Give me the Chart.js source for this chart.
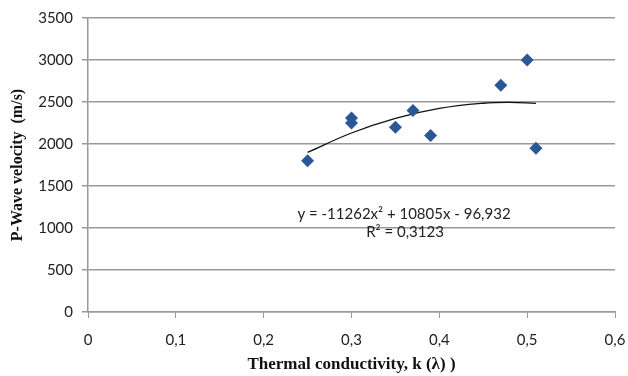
<!DOCTYPE html>
<html>
<head>
<meta charset="utf-8">
<script src="https://cdn.jsdelivr.net/npm/chart.js@4"></script>
<style>
  html, body { margin: 0; padding: 0; background: #fff; }
  #wrap { width: 628px; height: 376px; }
</style>
</head>
<body>
<div id="wrap"><canvas id="chart" width="628" height="376"></canvas></div>
<script>
// measured points
const conductivity = [0.25, 0.30, 0.30, 0.35, 0.37, 0.39, 0.47, 0.50, 0.51];
const velocity = [1800, 2310, 2250, 2200, 2400, 2100, 2700, 3000, 1950];

// trendline
const trendX = [0.25, 0.30, 0.35, 0.40, 0.45, 0.48, 0.51];
const trendY = [1900, 2131, 2305, 2423, 2485, 2495, 2484];

const equationText = "y = -11262x² + 10805x - 96,932";
const r2Text = "R² = 0,3123";

const tickFont = { family: "Lato", size: 15 };

const points = conductivity.map((x, i) => ({ x: x, y: velocity[i] }));
const trend = trendX.map((x, i) => ({ x: x, y: trendY[i] }));

// equation label near the curve
const equationLabel = {
  id: "equationLabel",
  afterDatasetsDraw(chart) {
    const ctx = chart.ctx;
    ctx.save();
    ctx.font = "15px Lato";
    ctx.fillStyle = "#222";
    ctx.textAlign = "center";
    ctx.textBaseline = "middle";
    ctx.fillText(equationText, 404, 214);
    ctx.fillText(r2Text, 405, 232);
    ctx.restore();
  },
};

new Chart(document.getElementById("chart").getContext("2d"), {
  type: "scatter",
  data: {
    datasets: [
      {
        label: "P-Wave",
        data: points,
        pointStyle: "rectRot",
        pointRadius: 6.5,
        pointHoverRadius: 6.5,
        backgroundColor: "#2b5797",
        borderColor: "#2b5797",
        borderWidth: 0,
      },
      {
        label: "Trend",
        data: trend,
        showLine: true,
        tension: 0.4,
        pointRadius: 0,
        borderColor: "#111",
        borderWidth: 1.3,
        fill: false,
      },
    ],
  },
  options: {
    responsive: false,
    animation: false,
    layout: { padding: { top: 17, right: 13, left: 0, bottom: 0 } },
    plugins: {
      legend: { display: false },
      tooltip: { enabled: false },
    },
    scales: {
      x: {
        type: "linear",
        min: 0,
        max: 0.6,
        afterFit: (s) => {
          s.height = 64;
          s.paddingLeft = 0;
          s.paddingRight = 0;
        },
        ticks: {
          stepSize: 0.1,
          padding: 13,
          color: "#222",
          font: tickFont,
          callback: (v) => (v === 0 ? "0" : v.toFixed(1).replace(".", ",")),
        },
        grid: {
          display: true,
          drawOnChartArea: false,
          tickLength: 6,
          color: "#999",
        },
        border: { color: "#999", width: 1.5 },
        title: {
          display: true,
          text: "Thermal conductivity, k (λ) )",
          color: "#111",
          font: { family: "Liberation Serif", size: 17, weight: "bold" },
          padding: { top: 0, bottom: 1 },
        },
      },
      y: {
        min: 0,
        max: 3500,
        afterFit: (s) => { s.width = 88; },
        ticks: {
          stepSize: 500,
          padding: 9,
          color: "#222",
          font: tickFont,
          callback: (v) => String(v),
        },
        grid: {
          color: "#999",
          lineWidth: 1.5,
          tickLength: 6,
        },
        border: { color: "#999", width: 1.5 },
        title: {
          display: true,
          text: "P-Wave velocity  (m/s)",
          color: "#111",
          font: { family: "Liberation Serif", size: 16, weight: "bold" },
          padding: { top: 8, bottom: 0 },
        },
      },
    },
  },
  plugins: [equationLabel],
});
</script>
</body>
</html>
